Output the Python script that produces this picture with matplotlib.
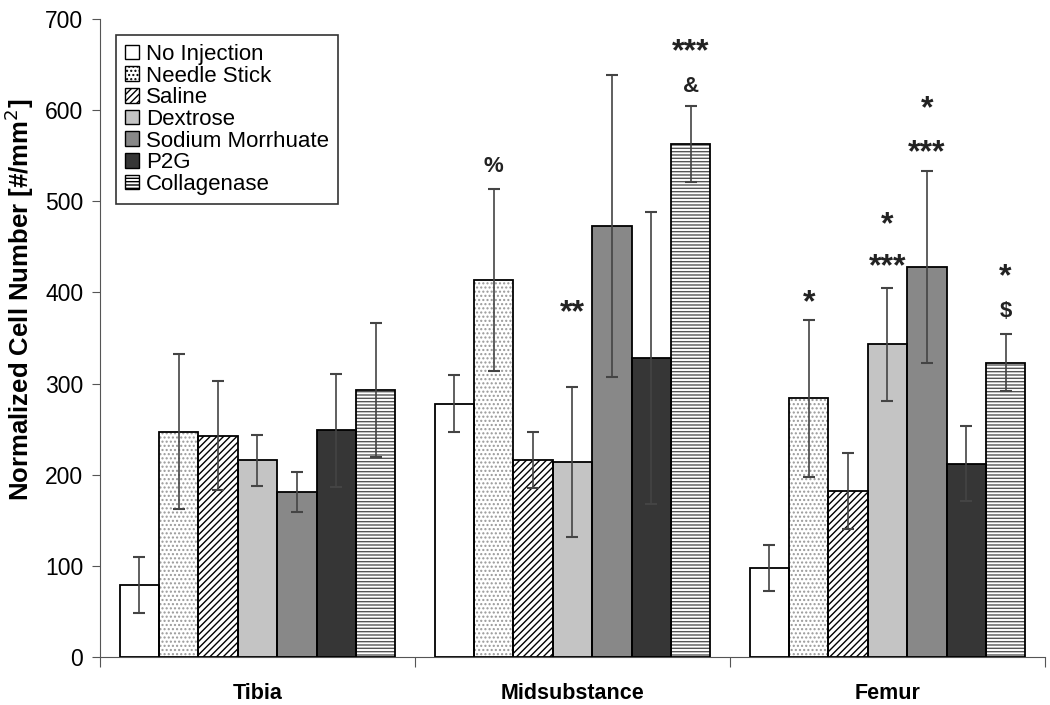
import numpy as np
import matplotlib.pyplot as plt
from matplotlib.patches import Patch
from matplotlib.transforms import offset_copy

plt.rcParams['font.family'] = ['Liberation Sans', 'DejaVu Sans']
plt.rcParams['hatch.linewidth'] = 1.0

# Data
regions = ['Tibia', 'Midsubstance', 'Femur']
treatments = ['No Injection', 'Needle Stick', 'Saline', 'Dextrose',
              'Sodium Morrhuate', 'P2G', 'Collagenase']

means = {
    'No Injection':     [79, 278, 98],
    'Needle Stick':     [247, 414, 284],
    'Saline':           [243, 216, 182],
    'Dextrose':         [216, 214, 343],
    'Sodium Morrhuate': [181, 473, 428],
    'P2G':              [249, 328, 212],
    'Collagenase':      [293, 563, 323],
}
errors = {
    'No Injection':     [31, 31, 25],
    'Needle Stick':     [85, 100, 86],
    'Saline':           [60, 31, 42],
    'Dextrose':         [28, 82, 62],
    'Sodium Morrhuate': [22, 166, 105],
    'P2G':              [62, 160, 41],
    'Collagenase':      [73, 42, 31],
}

# significance marks: (region, treatment, text, y of glyph centre)
marks = [
    ('Midsubstance', 'Needle Stick', '%', 540),
    ('Midsubstance', 'Dextrose', '**', 388),
    ('Midsubstance', 'Collagenase', '&', 628),
    ('Midsubstance', 'Collagenase', '***', 674),
    ('Femur', 'Needle Stick', '*', 399),
    ('Femur', 'Dextrose', '***', 438),
    ('Femur', 'Dextrose', '*', 485),
    ('Femur', 'Sodium Morrhuate', '***', 564),
    ('Femur', 'Sodium Morrhuate', '*', 612),
    ('Femur', 'Collagenase', '$', 381),
    ('Femur', 'Collagenase', '*', 428),
]

styles = {
    'No Injection':     dict(color='white', hatch=None, hcol='black'),
    'Needle Stick':     dict(color='white', hatch='....', hcol='#999999'),
    'Saline':           dict(color='white', hatch='/////', hcol='black'),
    'Dextrose':         dict(color='#c4c4c4', hatch=None, hcol='black'),
    'Sodium Morrhuate': dict(color='#888888', hatch=None, hcol='black'),
    'P2G':              dict(color='#363636', hatch=None, hcol='black'),
    'Collagenase':      dict(color='white', hatch='-----', hcol='#555555'),
}

fig = plt.figure(figsize=(10.5, 7.05), dpi=100)
ax = fig.add_axes([0.0952, 0.068, 0.9, 0.905])

n = len(treatments)
width = 1.0 / 8
x = np.arange(len(regions))
for i, t in enumerate(treatments):
    pos = x + (i - (n - 1) / 2) * width
    st = styles[t]
    ax.bar(pos, means[t], width, color=st['color'], hatch=st['hatch'],
           edgecolor=st['hcol'], linewidth=0, zorder=2)
    ax.bar(pos, means[t], width, fill=False, edgecolor='black',
           linewidth=1.3, zorder=3)
    ax.errorbar(pos, means[t], yerr=errors[t], fmt='none', ecolor='#444444',
                elinewidth=1.2, capsize=4, capthick=1.5, zorder=4)

for reg, t, txt, y in marks:
    xi = regions.index(reg) + (treatments.index(t) - (n - 1) / 2) * width
    if '*' in txt:
        fs, shift = 23, -0.31
    else:
        fs, shift = 16, -0.09
    tr = offset_copy(ax.transData, fig=fig, y=shift * fs, units='points')
    ax.text(xi, y, txt, transform=tr, ha='center', va='center', fontsize=fs,
            fontweight='bold', color='#222222')

ax.set_xlim(-0.5, 2.5)
ax.set_ylim(0, 700)
ax.set_yticks(range(0, 701, 100))
ax.set_xticks([-0.5, 0.5, 1.5, 2.5])
ax.set_xticklabels([])
ax.set_xticks(x, minor=True)
ax.set_xticklabels(regions, minor=True, fontsize=15.5, fontweight='bold')
ax.tick_params(axis='x', which='minor', length=0, pad=19)
ax.tick_params(axis='x', which='major', length=7, direction='out', color='#555555')
ax.tick_params(axis='y', labelsize=16.5, length=6, pad=6, color='#555555')
ax.spines['top'].set_visible(False)
ax.spines['right'].set_visible(False)
ax.spines['left'].set_color('#555555')
ax.spines['bottom'].set_color('#555555')
ax.set_ylabel('Normalized Cell Number [#/mm$^2$]', fontsize=18.5,
              fontweight='bold')
ax.yaxis.set_label_coords(-0.068, 0.56)

handles = [Patch(facecolor=styles[t]['color'], hatch=styles[t]['hatch'],
                 edgecolor='black', linewidth=1, label=t) for t in treatments]
leg = ax.legend(handles=handles, loc='upper left', bbox_to_anchor=(0.017, 0.975),
                fontsize=16, handlelength=0.65, handleheight=0.65,
                handletextpad=0.3, labelspacing=0.03, borderpad=0.4,
                borderaxespad=0, fancybox=False, framealpha=1)
leg.get_frame().set_edgecolor('#333333')
leg.get_frame().set_linewidth(1.2)

plt.savefig('out.png', dpi=100)
